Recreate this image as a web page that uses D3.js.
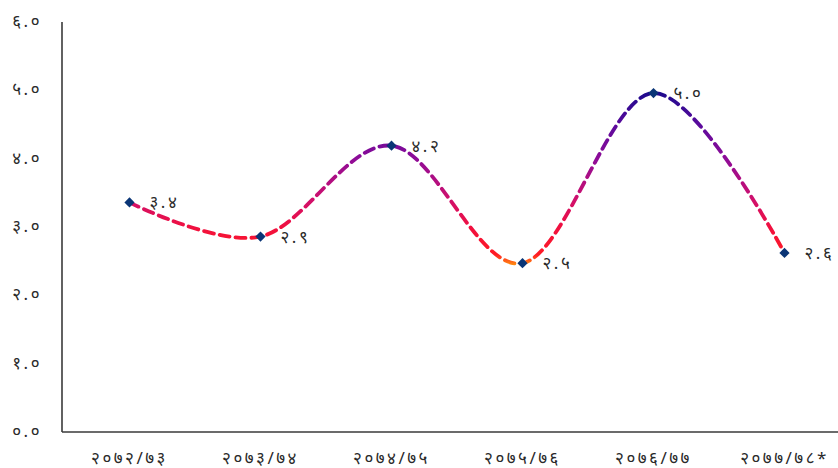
<!DOCTYPE html>
<html>
<head>
<meta charset="utf-8">
<script src="https://cdn.jsdelivr.net/npm/d3@7"></script>
<style>
  html, body { margin: 0; padding: 0; background: #fff; }
  svg { display: block; }
  text { font-family: "Noto Sans", "DejaVu Sans", sans-serif; fill: #2a2a2a; letter-spacing: 2.5px; }
</style>
</head>
<body>
<svg id="chart" width="838" height="468"></svg>
<script>
// ---- data ----
const categories = ["२०७२/७३", "२०७३/७४", "२०७४/७५", "२०७५/७६", "२०७६/७७", "२०७७/७८*"];
const values = [3.36, 2.86, 4.19, 2.47, 4.96, 2.62];
const dataLabels = ["३.४", "२.९", "४.२", "२.५", "५.०", "२.६"];
const yTicks = [0, 1, 2, 3, 4, 5, 6];
const yTickLabels = ["०.०", "१.०", "२.०", "३.०", "४.०", "५.०", "६.०"];
// gradient of the line by value
const gradValues = [2.45, 2.6, 3.0, 3.4, 4.0, 4.5, 5.0];
const gradColors = ["#ff8a10", "#ff1a24", "#f01040", "#d0106c", "#8e0c98", "#5a0a9c", "#1a0a8c"];

(function () {
const svg = d3.select("#chart");
const axisX = 62, mLeft = 64, mRight = 850, mTop = 22, mBottom = 432;

const x = d3.scaleBand().domain(categories).range([mLeft, mRight]);
const y = d3.scaleLinear().domain([0, 6]).range([mBottom, mTop]);

// gradient
const defs = svg.append("defs");
const grad = defs.append("linearGradient")
  .attr("id", "lineGrad")
  .attr("gradientUnits", "userSpaceOnUse")
  .attr("x1", 0).attr("x2", 0)
  .attr("y1", y(gradValues[0])).attr("y2", y(gradValues[gradValues.length - 1]));
const gMin = gradValues[0], gMax = gradValues[gradValues.length - 1];
gradValues.forEach((v, i) => {
  grad.append("stop")
    .attr("offset", (v - gMin) / (gMax - gMin))
    .attr("stop-color", gradColors[i]);
});

// y axis labels
svg.append("g").selectAll("text")
  .data(yTicks)
  .join("text")
  .attr("x", 42)
  .attr("y", d => y(d) - 1)
  .attr("dy", "0.35em")
  .attr("text-anchor", "end")
  .style("font-size", "17px")
  .text((d, i) => yTickLabels[i]);

// x axis labels
svg.append("g").selectAll("text")
  .data(categories)
  .join("text")
  .attr("x", d => x(d) + x.bandwidth() / 2)
  .attr("y", 464)
  .attr("text-anchor", "middle")
  .style("font-size", "17px")
  .text(d => d);

// axes lines
svg.append("line")
  .attr("x1", axisX).attr("x2", axisX)
  .attr("y1", mTop).attr("y2", mBottom)
  .attr("stroke", "#3a3a3a").attr("stroke-width", 1.6);
svg.append("line")
  .attr("x1", axisX).attr("x2", 838)
  .attr("y1", mBottom).attr("y2", mBottom)
  .attr("stroke", "#3a3a3a").attr("stroke-width", 1.6);

const pts = categories.map((c, i) => [x(c) + x.bandwidth() / 2, y(values[i])]);

// line
const line = d3.line().curve(d3.curveCatmullRom.alpha(0));
svg.append("path")
  .attr("d", line(pts))
  .attr("fill", "none")
  .attr("stroke", "url(#lineGrad)")
  .attr("stroke-width", 3.8)
  .attr("stroke-dasharray", "10,6")
  .attr("stroke-linecap", "round");

// markers (rotated squares)
svg.append("g").selectAll("path")
  .data(pts)
  .join("path")
  .attr("transform", d => `translate(${d[0]},${d[1]}) rotate(45)`)
  .attr("d", d3.symbol().type(d3.symbolSquare).size(52))
  .attr("fill", "#0a3576");

// data labels
svg.append("g").selectAll("text")
  .data(pts)
  .join("text")
  .attr("x", d => d[0] + 20)
  .attr("y", d => d[1])
  .attr("dy", "0.35em")
  .style("font-size", "17px")
  .text((d, i) => dataLabels[i]);
})();
</script>
</body>
</html>
